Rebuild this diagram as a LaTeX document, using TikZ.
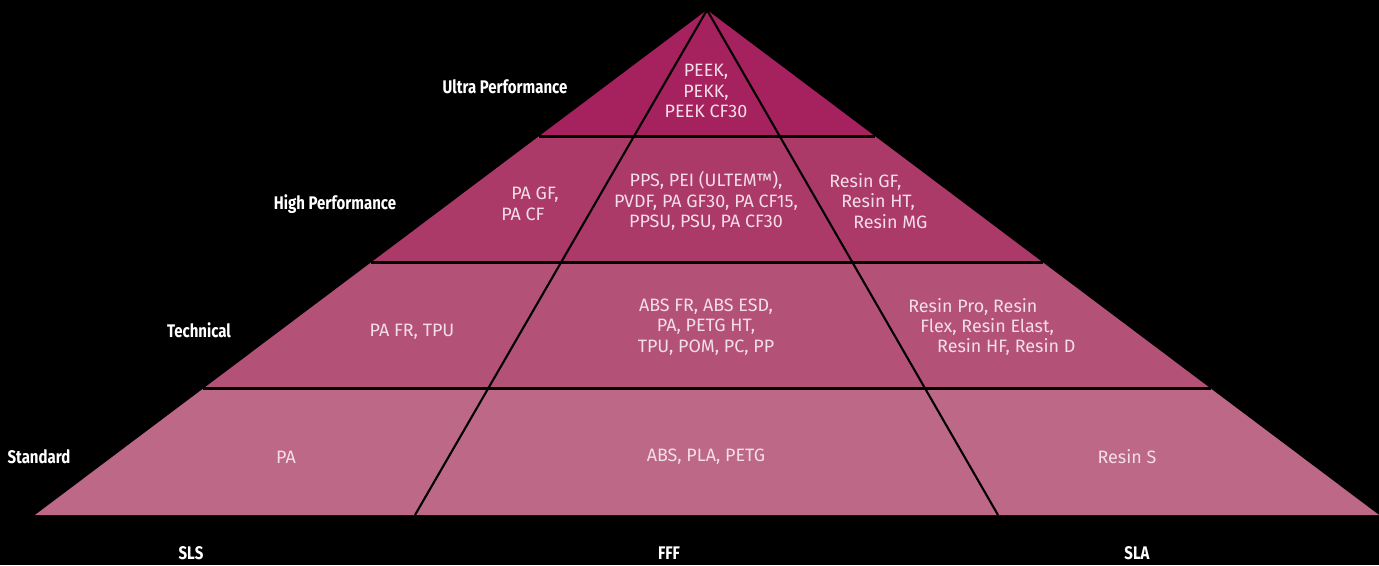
\documentclass[tikz,border=0pt]{standalone}
\usepackage{fontspec}
\setmainfont{Fira Sans}
\newfontfamily\matfont{Fira Sans}
\newfontfamily\lvlfont{Fira Sans}[FakeStretch=0.82]
\usetikzlibrary{calc}
\definecolor{ultra}{RGB}{165,34,94}
\definecolor{high}{RGB}{172,58,104}
\definecolor{tech}{RGB}{179,82,118}
\definecolor{std}{RGB}{189,104,135}
\definecolor{mattext}{RGB}{243,222,231}
\tikzset{
	mat/.style={text=mattext, font=\matfont\fontsize{10.2}{11.6}\selectfont, align=center, inner sep=0pt},
	lvl/.style={text=white, font=\lvlfont\bfseries\fontsize{10.4}{12}\selectfont, inner sep=0pt},
}
\begin{document}
\begin{tikzpicture}[x=0.02cm, y=-0.02cm]
	\fill[black] (0,0) rectangle (1379,565);
	\coordinate (apex) at (707,10);
	\coordinate (baseL) at (35,515);
	\coordinate (baseR) at (1379,515);
	\coordinate (cutL) at (415,515);
	\coordinate (cutR) at (998,515);
	% tiers
	\fill[ultra] (apex) -- ($(apex)!0.25!(baseL)$) -- ($(apex)!0.25!(baseR)$) -- cycle;
	\fill[high] ($(apex)!0.25!(baseL)$) -- ($(apex)!0.5!(baseL)$) -- ($(apex)!0.5!(baseR)$) -- ($(apex)!0.25!(baseR)$) -- cycle;
	\fill[tech] ($(apex)!0.5!(baseL)$) -- ($(apex)!0.75!(baseL)$) -- ($(apex)!0.75!(baseR)$) -- ($(apex)!0.5!(baseR)$) -- cycle;
	\fill[std] ($(apex)!0.75!(baseL)$) -- (baseL) -- (baseR) -- ($(apex)!0.75!(baseR)$) -- cycle;
	% separators
	\draw[line width=1.5pt] ($(apex)!0.25!(baseL)$) -- ($(apex)!0.25!(baseR)$);
	\draw[line width=1.5pt] ($(apex)!0.5!(baseL)$) -- ($(apex)!0.5!(baseR)$);
	\draw[line width=1.5pt] ($(apex)!0.75!(baseL)$) -- ($(apex)!0.75!(baseR)$);
	\draw[line width=1.2pt] (apex) -- (cutL);
	\draw[line width=1.2pt] (apex) -- (cutR);
	% materials
	\node[mat] (peek) at (706,91) {PEEK,\\PEKK,\\PEEK CF30};
	\node[mat, align=left, anchor=west] (highL) at (501,204) {\hspace*{5.7pt}PA GF,\\PA CF};
	\node[mat] (highM) at (706,201) {PPS, PEI (ULTEM™),\\PVDF, PA GF30, PA CF15,\\PPSU, PSU, PA CF30};
	\node[mat, align=left, anchor=west] (highR) at (829,201) {Resin GF,\\\hspace*{6.8pt}Resin HT,\\\hspace*{13.6pt}Resin MG};
	\node[mat] (techL) at (412,332) {PA FR, TPU};
	\node[mat] (techM) at (706,327) {ABS FR, ABS ESD,\\PA, PETG HT,\\TPU, POM, PC, PP};
	\node[mat, align=left, anchor=west] (techR) at (908,327) {Resin Pro, Resin\\\hspace*{6.8pt}Flex, Resin Elast,\\\hspace*{16.4pt}Resin HF, Resin D};
	\node[mat] (stdL) at (286,457) {PA};
	\node[mat] (stdM) at (706,457) {ABS, PLA, PETG};
	\node[mat] (stdR) at (1127,457) {Resin S};
	% levels
	\node[lvl] (ultraLbl) at (505,87) {Ultra Performance};
	\node[lvl] (highLbl) at (335,204) {High Performance};
	\node[lvl] (techLbl) at (199,330) {Technical};
	\node[lvl] (stdLbl) at (39,457) {Standard};
	% processes
	\node[lvl] (sls) at (191,553) {SLS};
	\node[lvl] (fff) at (669,553) {FFF};
	\node[lvl] (sla) at (1137,553) {SLA};
\end{tikzpicture}
\end{document}
